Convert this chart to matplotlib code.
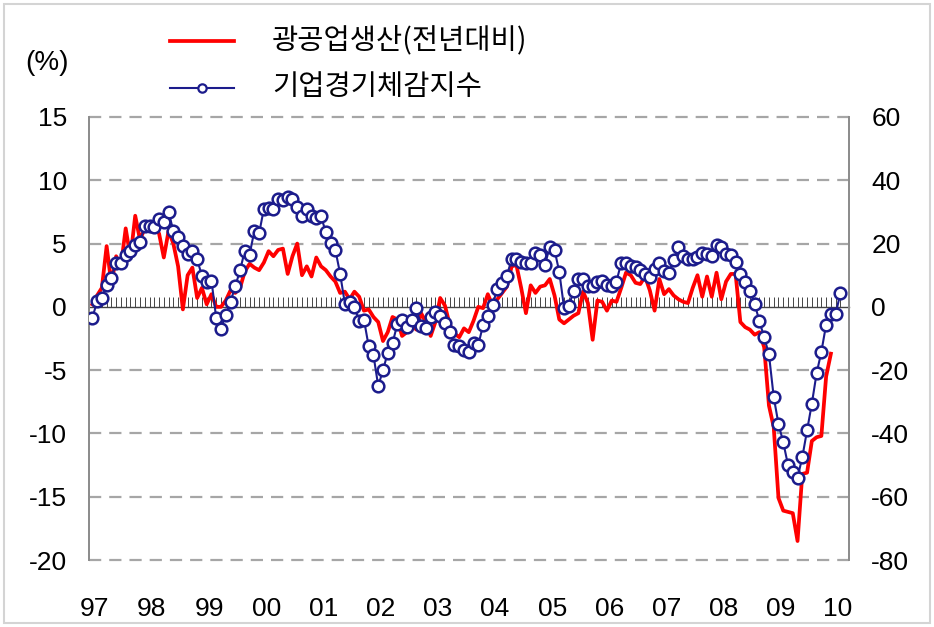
import numpy as np
import matplotlib
matplotlib.use("Agg")
import matplotlib.pyplot as plt
from matplotlib.lines import Line2D
from matplotlib.patches import Rectangle
from matplotlib.ticker import NullFormatter

# ---- data (monthly, Jan 1997 onward) ----
year_labels = ["97", "98", "99", "00", "01", "02", "03", "04", "05", "06", "07", "08", "09", "10"]

# 광공업생산(전년대비), % (left axis)
production = [
    0.2, 0.9, 1.5, 4.8, 1.8, 4.0, 3.2, 6.2, 3.9, 7.2, 5.3, 6.2,
    6.5, 6.2, 5.8, 3.9, 6.0, 5.0, 3.2, -0.2, 2.5, 3.1, 0.7, 1.5,
    0.2, 1.0, 0.0, 0.0, 0.5, 1.3, 1.1, 1.5, 2.8, 3.4, 3.1, 2.9,
    3.5, 4.4, 4.0, 4.5, 4.6, 2.6, 4.0, 5.0, 2.5, 3.2, 2.4, 3.9,
    3.2, 2.9, 2.4, 2.0, 1.1, 1.2, 0.6, 1.2, 0.8, -0.3, -0.2, -0.8,
    -1.2, -2.7, -2.0, -0.8, -1.0, -2.3, -2.0, -1.4, -1.8, -0.5, -1.2, -2.3,
    -1.2, 0.7, 0.1, -1.4, -2.1, -2.4, -1.7, -2.0, -1.1, 0.0, -0.1, 1.0,
    0.1, 0.6, 1.1, 1.6, 3.2, 3.3, 1.5, -0.5, 1.7, 1.1, 1.6, 1.7,
    2.2, 0.9, -1.0, -1.3, -1.0, -0.7, -0.5, 1.2, 0.3, -2.6, 0.5, 0.4,
    -0.3, 0.5, 0.4, 1.5, 2.7, 2.5, 1.9, 1.8, 2.4, 1.3, -0.3, 2.2,
    1.0, 1.4, 0.9, 0.6, 0.4, 0.3, 1.5, 2.5, 0.8, 2.4, 0.8, 2.7,
    0.6, 2.0, 2.6, 2.6, -1.2, -1.6, -1.8, -2.2, -2.0, -3.2, -7.8, -9.5,
    -15.1, -16.1, -16.2, -16.3, -18.5, -13.2, -13.1, -10.6, -10.3, -10.2, -5.5, -3.7,
]

# 기업경기체감지수 (right axis)
bsi = [
    -3.5, 1.7, 2.7, 7.0, 9.2, 14.0, 14.0, 16.5, 17.8, 19.4, 20.5, 25.5,
    25.7, 25.1, 27.8, 26.8, 30.0, 24.0, 22.0, 19.2, 16.8, 17.5, 15.0, 9.8,
    7.7, 8.3, -3.5, -7.0, -2.5, 1.6, 6.5, 11.5, 17.8, 16.5, 24.0, 23.2,
    31.0, 31.3, 31.0, 34.0, 33.7, 34.8, 34.2, 31.6, 28.7, 31.0, 28.7, 28.0,
    28.7, 23.5, 20.3, 18.0, 10.5, 1.0, 1.5, 0.0, -4.5, -4.0, -12.5, -15.3,
    -25.0, -20.0, -14.5, -11.5, -5.5, -4.2, -6.4, -4.2, -0.5, -6.0, -6.6, -3.2,
    -1.6, -2.9, -5.0, -8.0, -12.0, -12.3, -13.5, -14.2, -11.5, -12.0, -5.8, -3.0,
    0.5, 5.8, 7.4, 9.9, 15.0, 15.0, 14.1, 14.0, 14.0, 17.0, 16.3, 13.3,
    19.0, 18.0, 11.0, -0.3, 0.2, 5.0, 8.7, 8.9, 6.7, 6.6, 8.0, 8.2,
    7.0, 6.6, 8.0, 14.0, 14.0, 13.0, 12.5, 11.7, 10.4, 9.5, 12.0, 14.0,
    11.3, 10.8, 14.8, 18.8, 16.0, 15.0, 15.0, 15.8, 17.1, 16.6, 16.0, 19.5,
    18.8, 16.7, 16.5, 14.2, 10.3, 8.0, 5.0, 1.0, -4.6, -9.6, -15.0, -28.5,
    -37.0, -42.8, -50.0, -52.2, -54.0, -47.5, -39.0, -30.6, -21.0, -14.2, -5.6, -2.2,
    -2.2, 4.4,
]

left_ticks = [15, 10, 5, 0, -5, -10, -15, -20]
right_ticks = [60, 40, 20, 0, -20, -40, -60, -80]

num_font = ["Liberation Sans", "DejaVu Sans"]
kr_font = ["Noto Sans CJK KR", "DejaVu Sans"]

RED = "#ff0000"
NAVY = "#1c1c8c"

fig = plt.figure(figsize=(9.34, 6.27), dpi=100)
fig.patch.set_facecolor("white")
fig.add_artist(Rectangle((4 / 934, 4 / 627), 926 / 934, 619 / 627, transform=fig.transFigure,
                         fill=False, edgecolor="#d4d4d4", linewidth=1.5))

ax = fig.add_axes([89 / 934, 1 - 560 / 627, (849 - 89) / 934, (560 - 117) / 627])
ax2 = ax.twinx()

x_prod = np.arange(len(production))
x_bsi = np.arange(len(bsi))

ax.set_xlim(-0.7, 158.8)
ax.set_ylim(-20, 15)
ax2.set_ylim(-80, 60)

# dashed grid lines
for v in left_ticks:
    if v != 0:
        ax.axhline(v, color="#a6a6a6", linewidth=1.6, dashes=(5.5, 3.6), zorder=1, clip_on=False)

ax.plot(x_prod, production, color=RED, linewidth=2.7, zorder=3)
ax2.plot(x_bsi, bsi, color=NAVY, linewidth=1.5, marker="o", markersize=8.4,
         markerfacecolor="white", markeredgecolor=NAVY, markeredgewidth=1.8, zorder=4)

# zero line with monthly ticks pointing upward
zero = ax.secondary_xaxis(20 / 35)
for s in zero.spines.values():
    s.set_color("#444444")
    s.set_linewidth(1.0)
zero.set_xticks(np.arange(1, 158))
zero.xaxis.set_major_formatter(NullFormatter())
zero.tick_params(axis="x", which="both", direction="out", length=7, width=0.7, color="#444444",
                 labelbottom=False, labeltop=False)

for a in (ax, ax2):
    a.spines["top"].set_visible(False)
    a.spines["bottom"].set_visible(False)
    a.spines["left"].set_color("#8c8c8c")
    a.spines["right"].set_color("#8c8c8c")
    a.spines["left"].set_linewidth(1.3)
    a.spines["right"].set_linewidth(1.3)

ax.set_yticks(left_ticks)
ax.set_yticklabels([str(v) for v in left_ticks])
ax2.set_yticks(right_ticks)
ax2.set_yticklabels([str(v) for v in right_ticks])
ax.set_xticks(np.arange(len(year_labels)) * 12 + 0.5)
ax.set_xticklabels(year_labels)

ax.tick_params(axis="y", length=0, pad=16, labelsize=19)
ax2.tick_params(axis="y", length=0, pad=16, labelsize=19)
ax.tick_params(axis="x", length=0, pad=27, labelsize=19)
for lab in ax.get_xticklabels() + ax.get_yticklabels() + ax2.get_yticklabels():
    lab.set_family(num_font)

# (%) label
fig.text(47 / 934, 1 - 63 / 627, "(%)", family=num_font, fontsize=20, ha="center", va="center")

# legend (manual)
fig.add_artist(Line2D([170 / 934, 234 / 934], [1 - 41 / 627, 1 - 41 / 627], transform=fig.transFigure,
                      color=RED, linewidth=2.7))
fig.add_artist(Line2D([170 / 934, 234 / 934], [1 - 88 / 627, 1 - 88 / 627], transform=fig.transFigure,
                      color=NAVY, linewidth=1.5))
fig.add_artist(Line2D([202 / 934], [1 - 88 / 627], transform=fig.transFigure, marker="o",
                      markersize=6, markerfacecolor="white", markeredgecolor=NAVY,
                      markeredgewidth=1.6, linestyle="none"))
fig.text(272 / 934, 1 - 40 / 627, "광공업생산(전년대비)", family=kr_font, fontsize=20.5,
         ha="left", va="center")
fig.text(272 / 934, 1 - 87 / 627, "기업경기체감지수", family=kr_font, fontsize=20.5,
         ha="left", va="center")

fig.savefig("out.png", dpi=100)
